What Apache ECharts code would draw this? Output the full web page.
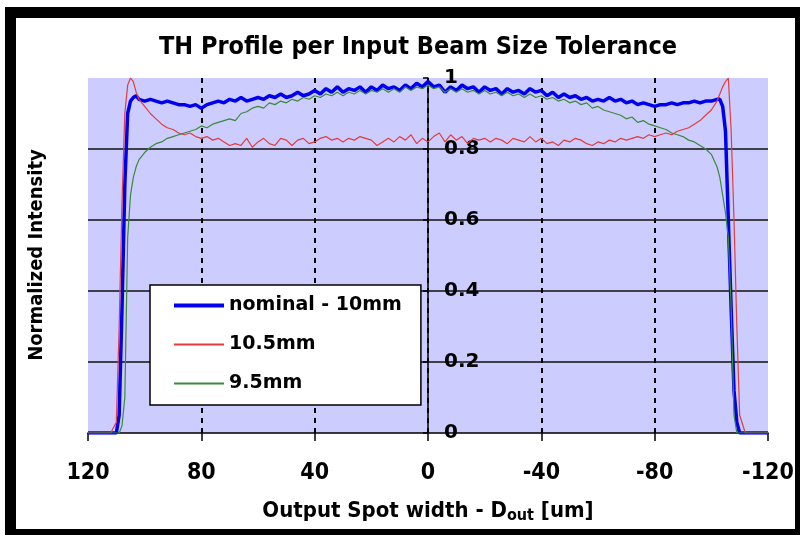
<!DOCTYPE html>
<html>
<head>
<meta charset="utf-8">
<script src="https://cdn.jsdelivr.net/npm/echarts@6/dist/echarts.min.js"></script>
<style>
  html, body { margin: 0; padding: 0; background: #fff; }
  #chart { width: 800px; height: 535px; }
</style>
</head>
<body>
<div id="chart"></div>
<script>
// sample positions along the spot width (um)
var xs = [120, 116, 112, 110, 109, 108, 107, 106, 105, 104, 103, 102,
    100, 98, 96, 94, 92, 90, 88, 86, 84, 82, 80, 78, 76, 74, 72, 70, 68, 66, 64, 62, 60, 58, 56, 54, 52, 50,
    48, 46, 44, 42, 40, 38, 36, 34, 32, 30, 28, 26, 24, 22, 20, 18, 16, 14, 12, 10, 8, 6, 4, 2,
    0,
    -2, -4, -6, -8, -10, -12, -14, -16, -18, -20, -22, -24, -26, -28, -30, -32, -34, -36, -38, -40, -42, -44, -46, -48,
    -50, -52, -54, -56, -58, -60, -62, -64, -66, -68, -70, -72, -74, -76, -78, -80, -82, -84, -86, -88, -90, -92, -94, -96, -98, -100,
    -102, -103, -104, -105, -106, -107, -108, -109, -110, -112, -116, -120];

// nominal - 10mm
var nominal = [0, 0, 0, 0, 0.05, 0.35, 0.7, 0.9, 0.935, 0.945, 0.95, 0.94,
    0.935, 0.94, 0.935, 0.93, 0.935, 0.93, 0.925, 0.925, 0.92, 0.925, 0.915, 0.925, 0.93, 0.935, 0.93, 0.94, 0.935, 0.945, 0.935, 0.94, 0.945, 0.94, 0.95, 0.945, 0.955, 0.945,
    0.95, 0.96, 0.95, 0.955, 0.965, 0.955, 0.97, 0.96, 0.975, 0.96, 0.97, 0.965, 0.975, 0.96, 0.975, 0.965, 0.98, 0.97, 0.975, 0.965, 0.98, 0.97, 0.985, 0.975,
    0.99,
    0.975, 0.98, 0.96, 0.975, 0.965, 0.98, 0.97, 0.975, 0.96, 0.975, 0.965, 0.97, 0.955, 0.97, 0.96, 0.965, 0.955, 0.97, 0.96, 0.965, 0.95, 0.96, 0.945, 0.955,
    0.945, 0.95, 0.94, 0.945, 0.935, 0.94, 0.935, 0.945, 0.935, 0.94, 0.93, 0.935, 0.925, 0.93, 0.925, 0.92, 0.925, 0.925, 0.93, 0.925, 0.93, 0.93, 0.935, 0.93, 0.935, 0.935,
    0.94, 0.94, 0.92, 0.85, 0.6, 0.35, 0.12, 0.03, 0, 0, 0, 0];

// 10.5mm
var big = [0, 0, 0, 0.03, 0.3, 0.65, 0.9, 0.98, 1.0, 0.99, 0.96, 0.94,
    0.92, 0.9, 0.885, 0.87, 0.86, 0.855, 0.845, 0.84, 0.845, 0.835, 0.83, 0.835, 0.825, 0.83, 0.82, 0.81, 0.815, 0.81, 0.83, 0.805, 0.82, 0.83, 0.815, 0.81, 0.83, 0.825,
    0.81, 0.825, 0.83, 0.815, 0.82, 0.83, 0.835, 0.825, 0.83, 0.82, 0.83, 0.825, 0.835, 0.83, 0.825, 0.81, 0.82, 0.83, 0.82, 0.835, 0.825, 0.84, 0.815, 0.83,
    0.82,
    0.835, 0.845, 0.82, 0.84, 0.825, 0.835, 0.815, 0.83, 0.825, 0.83, 0.82, 0.83, 0.825, 0.815, 0.83, 0.825, 0.82, 0.835, 0.82, 0.83, 0.815, 0.82, 0.81, 0.825,
    0.82, 0.83, 0.825, 0.815, 0.81, 0.82, 0.815, 0.825, 0.82, 0.83, 0.825, 0.83, 0.835, 0.83, 0.84, 0.835, 0.84, 0.845, 0.84, 0.85, 0.855, 0.86, 0.87, 0.88, 0.895, 0.91,
    0.935, 0.955, 0.975, 0.99, 1.0, 0.85, 0.6, 0.3, 0.05, 0, 0, 0];

// 9.5mm
var small = [0, 0, 0, 0, 0, 0.02, 0.1, 0.55, 0.67, 0.72, 0.75, 0.77,
    0.79, 0.805, 0.815, 0.82, 0.83, 0.835, 0.84, 0.845, 0.85, 0.855, 0.865, 0.86, 0.87, 0.875, 0.88, 0.885, 0.88, 0.9, 0.905, 0.915, 0.92, 0.915, 0.93, 0.925, 0.935, 0.93,
    0.94, 0.935, 0.945, 0.94, 0.95, 0.945, 0.955, 0.95, 0.96, 0.95, 0.96, 0.955, 0.965, 0.955, 0.965, 0.96, 0.97, 0.96, 0.97, 0.96, 0.975, 0.965, 0.975, 0.97,
    0.98,
    0.97, 0.975, 0.96, 0.97, 0.96, 0.97, 0.96, 0.965, 0.955, 0.965, 0.955, 0.96, 0.95, 0.96, 0.95, 0.955, 0.945, 0.955, 0.945, 0.95, 0.94, 0.945, 0.935, 0.94,
    0.93, 0.935, 0.925, 0.93, 0.915, 0.92, 0.91, 0.905, 0.9, 0.895, 0.885, 0.89, 0.875, 0.88, 0.87, 0.865, 0.86, 0.855, 0.845, 0.84, 0.835, 0.825, 0.82, 0.81, 0.8, 0.785,
    0.75, 0.72, 0.67, 0.62, 0.55, 0.35, 0.05, 0, 0, 0, 0, 0];

var seriesNames = ['nominal - 10mm', '10.5mm', '9.5mm'];

var narrow = '"Liberation Sans Narrow", "DejaVu Sans Condensed", "Liberation Sans", sans-serif';

function pairs(vals) {
    return xs.map(function (x, i) { return [x, vals[i]]; });
}

var myChart = echarts.init(document.getElementById('chart'));

var option = {
    backgroundColor: '#fff',
    animation: false,
    title: {
        text: 'TH Profile per Input Beam Size Tolerance',
        left: 413,
        textAlign: 'center',
        top: 30,
        textStyle: { fontFamily: narrow, fontWeight: 'bold', fontSize: 25, color: '#000' }
    },
    graphic: [
        {
            type: 'rect',
            shape: { x: 10.5, y: 12.5, width: 790, height: 522 },
            style: { fill: null, stroke: '#000', lineWidth: 11 },
            z: 100
        },
        {
            type: 'text',
            x: 37, y: 255,
            rotation: Math.PI / 2,
            style: {
                text: 'Normalized Intensity',
                fontFamily: narrow, fontWeight: 'bold', fontSize: 20, fill: '#000',
                align: 'center', verticalAlign: 'middle'
            }
        }
    ],
    legend: {
        orient: 'vertical',
        left: 150,
        top: 285,
        data: [
            { name: seriesNames[0], lineStyle: { width: 4 } },
            { name: seriesNames[1] },
            { name: seriesNames[2] }
        ],
        backgroundColor: '#fff',
        borderColor: '#000',
        borderWidth: 1.5,
        borderRadius: 0,
        padding: [11, 19, 12, 22],
        itemWidth: 50,
        itemHeight: 14,
        itemGap: 20,
        itemStyle: { opacity: 0 },
        textStyle: { fontFamily: 'DejaVu Sans', fontWeight: 'bold', fontSize: 19, color: '#000' }
    },
    grid: {
        left: 88,
        right: 32,
        top: 78,
        bottom: 102,
        outerBoundsMode: 'none',
        show: true,
        backgroundColor: '#ccccff',
        borderWidth: 0
    },
    xAxis: {
        type: 'value',
        min: -120,
        max: 120,
        interval: 40,
        inverse: true,
        name: '{n|Output Spot width - D}{s|out}{n| [um]}',
        nameLocation: 'middle',
        nameGap: 65,
        nameTextStyle: {
            rich: {
                n: { fontFamily: narrow, fontWeight: 'bold', fontSize: 22, color: '#000' },
                s: { fontFamily: narrow, fontWeight: 'bold', fontSize: 16, color: '#000', padding: [10, 0, 0, 0] }
            }
        },
        axisLine: { onZero: false, lineStyle: { color: '#000', width: 1.5 } },
        axisTick: { show: true, length: 8, lineStyle: { color: '#000', width: 1.5 } },
        axisLabel: {
            margin: 29,
            fontFamily: narrow, fontWeight: 'bold', fontSize: 23, color: '#000'
        },
        splitLine: {
            show: true,
            showMinLine: false,
            showMaxLine: false,
            lineStyle: { color: '#000', width: 2, type: [5, 5] }
        }
    },
    yAxis: {
        type: 'value',
        min: 0,
        max: 1,
        interval: 0.2,
        position: 'left',
        // the value axis sits on x = 0, in the middle of the plot
        offset: -340,
        axisLine: { show: true, onZero: false, lineStyle: { color: '#000', width: 1.5 } },
        axisTick: { show: true, length: 5, lineStyle: { color: '#000', width: 1.5 } },
        axisLabel: {
            inside: true,
            margin: 16,
            fontFamily: 'DejaVu Sans', fontWeight: 'bold', fontSize: 20, color: '#000'
        },
        splitLine: {
            show: true,
            showMinLine: false,
            showMaxLine: false,
            lineStyle: { color: '#111', width: 1.5 }
        }
    },
    series: [
        {
            name: seriesNames[0],
            type: 'line',
            data: pairs(nominal),
            symbol: 'none',
            color: '#0000ee',
            lineStyle: { width: 3.5, color: '#0000ee' }
        },
        {
            name: seriesNames[1],
            type: 'line',
            data: pairs(big),
            symbol: 'none',
            color: '#e23c3c',
            lineStyle: { width: 1.2, color: '#e23c3c' }
        },
        {
            name: seriesNames[2],
            type: 'line',
            data: pairs(small),
            symbol: 'none',
            color: '#3a8a3a',
            lineStyle: { width: 1.2, color: '#3a8a3a' }
        }
    ]
};

myChart.setOption(option);
</script>
</body>
</html>
